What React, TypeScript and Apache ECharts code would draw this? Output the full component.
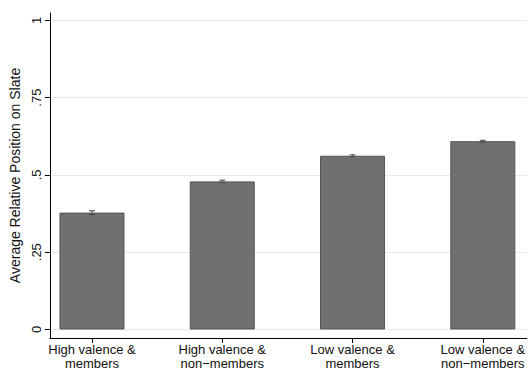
import React, { useEffect, useRef } from "react";
import * as echarts from "echarts";

const categories = [
  "High valence &\nmembers",
  "High valence &\nnon\u2212members",
  "Low valence &\nmembers",
  "Low valence &\nnon\u2212members",
];
const means = [0.378, 0.479, 0.562, 0.609];
const errors = [0.006, 0.004, 0.003, 0.003];
const yTicks = [0, 0.25, 0.5, 0.75, 1];
const yTickLabels = ["0", ".25", ".5", ".75", "1"];
const xPositions = [1, 2, 3, 4];

export default function App() {
  const ref = useRef<HTMLDivElement>(null);
  useEffect(() => {
    if (!ref.current) return;
    const chart = echarts.init(ref.current, undefined, { renderer: "svg" });
    const font = "'Liberation Sans', Arial, Helvetica, sans-serif";
    chart.setOption({
      animation: false,
      backgroundColor: "#ffffff",
      grid: { left: 49, right: 1, top: 13, bottom: 34, containLabel: false },
      xAxis: {
        type: "value",
        min: 0.677,
        max: 4.338,
        splitLine: { show: false },
        axisLine: { show: true, onZero: false, lineStyle: { color: "#000", width: 1 } },
        axisTick: { show: true, length: 5, customValues: xPositions, lineStyle: { color: "#000" } },
        axisLabel: {
          customValues: xPositions,
          formatter: (v: number) => categories[Math.round(v) - 1] ?? "",
          fontFamily: font,
          fontSize: 13,
          lineHeight: 14,
          color: "#111",
          margin: 4,
          hideOverlap: false,
          showMinLabel: true,
          showMaxLabel: true,
        },
      },
      yAxis: {
        type: "value",
        min: -0.0275,
        max: 1.0236,
        name: "Average Relative Position on Slate",
        nameLocation: "middle",
        nameGap: 24,
        nameTextStyle: { fontFamily: font, fontSize: 14, color: "#111" },
        axisLine: { show: true, onZero: false, lineStyle: { color: "#000", width: 1 } },
        axisTick: { show: true, length: 5, customValues: yTicks, lineStyle: { color: "#000" } },
        axisLabel: {
          customValues: yTicks,
          rotate: 90,
          formatter: (v: number) => {
            const i = yTicks.findIndex((t) => Math.abs(t - v) < 1e-6);
            return i >= 0 ? yTickLabels[i] : "";
          },
          fontFamily: font,
          fontSize: 13,
          color: "#111",
          margin: 7,
        },
        splitLine: { show: true, lineStyle: { color: "#eaeaea", width: 1 } },
      },
      series: [
        {
          type: "bar",
          data: xPositions.map((x, i) => [x, means[i]]),
          barWidth: 65,
          itemStyle: { color: "#707070", borderColor: "#545454", borderWidth: 1 },
        },
        {
          type: "custom",
          data: xPositions.map((x, i) => [x, means[i] - errors[i], means[i] + errors[i]]),
          renderItem: (params: any, api: any) => {
            const x = api.value(0);
            const lo = api.coord([x, api.value(1)]);
            const hi = api.coord([x, api.value(2)]);
            const hw = 3;
            const style = { stroke: "#4a4a4a", lineWidth: 1 };
            return {
              type: "group",
              children: [
                { type: "line", shape: { x1: lo[0], y1: lo[1], x2: hi[0], y2: hi[1] }, style },
                { type: "line", shape: { x1: lo[0] - hw, y1: lo[1], x2: lo[0] + hw, y2: lo[1] }, style },
                { type: "line", shape: { x1: hi[0] - hw, y1: hi[1], x2: hi[0] + hw, y2: hi[1] }, style },
              ],
            };
          },
          z: 5,
        },
      ],
    });
    return () => chart.dispose();
  }, []);
  return (
    <div
      ref={ref}
      style={{ position: "fixed", left: 0, top: 0, width: 528, height: 372, background: "#fff" }}
    />
  );
}
